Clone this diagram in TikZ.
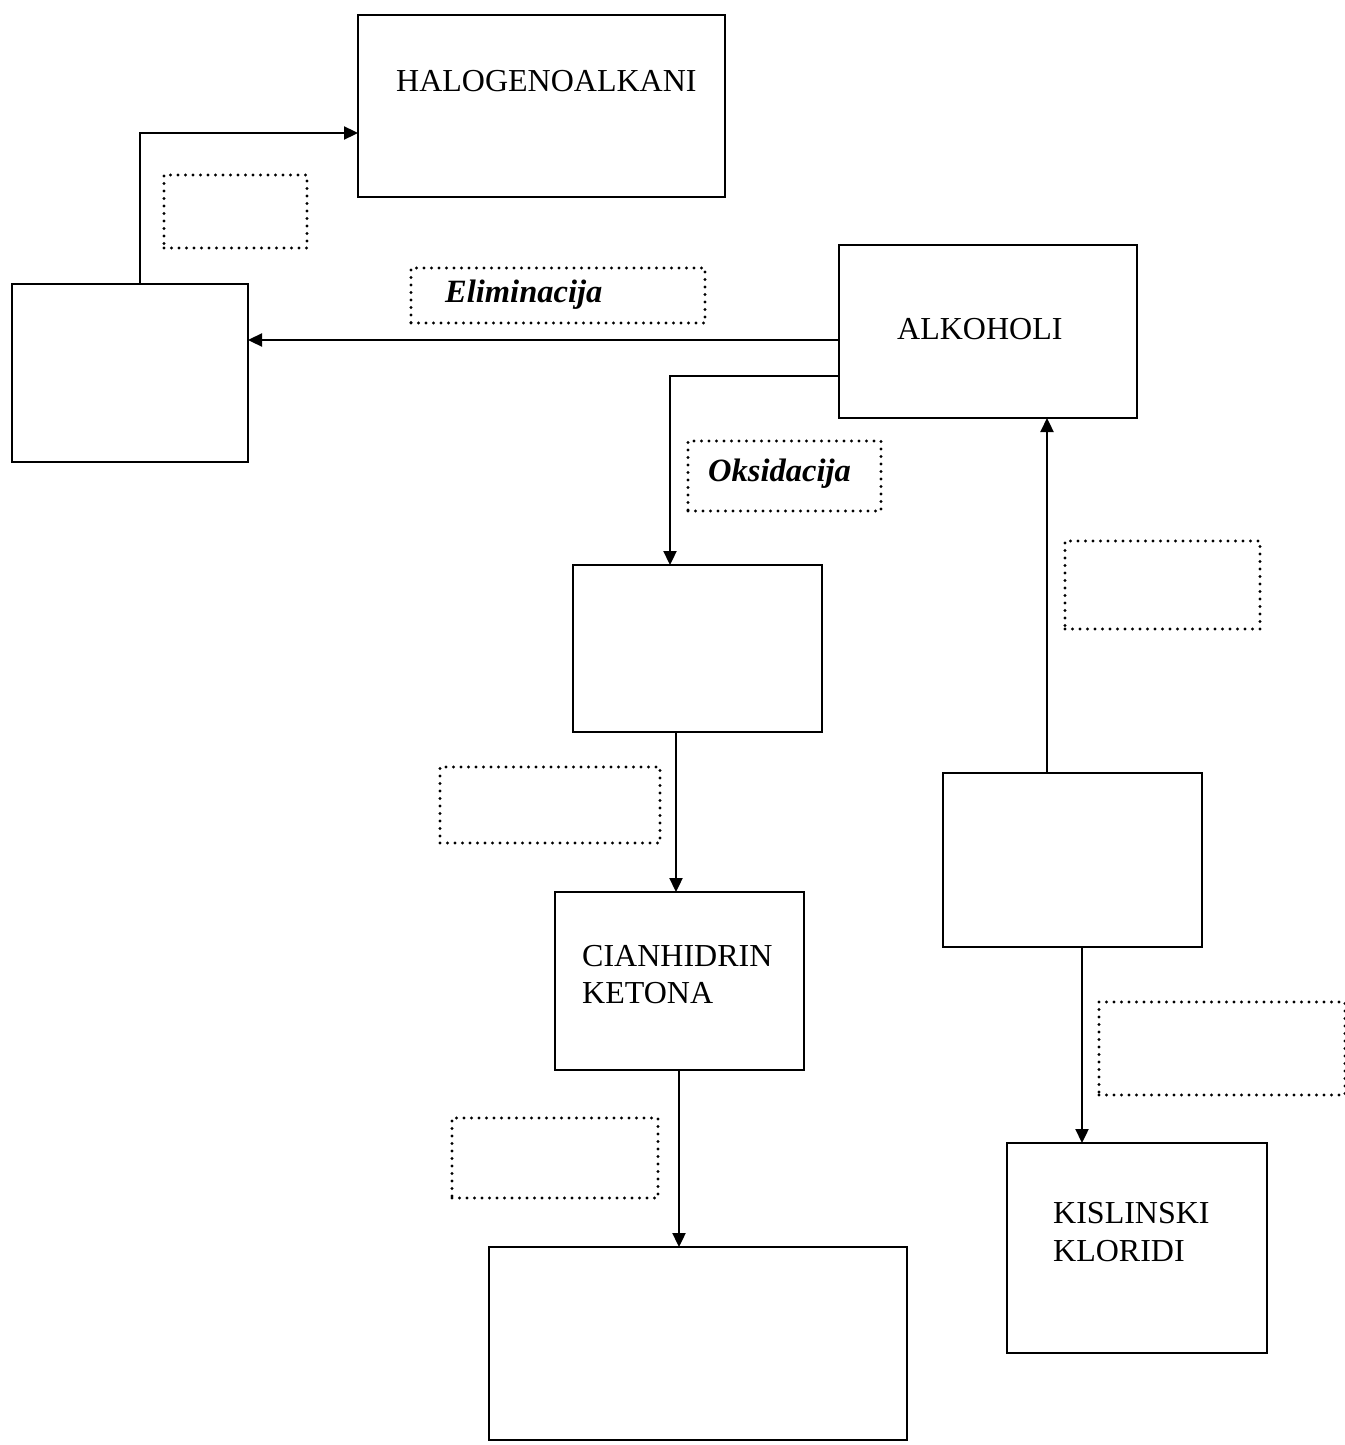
\documentclass[tikz,border=0pt]{standalone}
\usepackage{fontspec}
\setmainfont{Liberation Serif}
\usetikzlibrary{arrows.meta}
\begin{document}
\begin{tikzpicture}[x=1pt,y=-1pt,
  box/.style={draw=black, line width=2.3pt, inner sep=0pt, outer sep=0pt, anchor=north west},
  dotbox/.style={draw=black, line width=3.1pt, line cap=round, dash pattern=on 0pt off 7.5pt, inner sep=0pt, outer sep=0pt, anchor=north west},
  arr/.style={line width=2.3pt, -{Triangle[length=14pt,width=13pt]}},
  lbl/.style={font=\fontsize{32}{37}\selectfont, inner sep=0pt, anchor=base west},
  ilbl/.style={font=\fontsize{32.5}{37}\selectfont\bfseries\itshape, inner sep=0pt, anchor=base west}]
\useasboundingbox[fill=white] (0,0) rectangle (1344,1445);

% solid boxes
\node[box, minimum width=367pt, minimum height=182pt] (halo) at (358,15) {};
\node[box, minimum width=236pt, minimum height=178pt] (lbox) at (12,284) {};
\node[box, minimum width=298pt, minimum height=173pt] (alk) at (839,245) {};
\node[box, minimum width=249pt, minimum height=167pt] (mid) at (573,565) {};
\node[box, minimum width=249pt, minimum height=178pt] (cian) at (555,892) {};
\node[box, minimum width=418pt, minimum height=193pt] (bot) at (489,1247) {};
\node[box, minimum width=259pt, minimum height=174pt] (rbox) at (943,773) {};
\node[box, minimum width=260pt, minimum height=210pt] (kis) at (1007,1143) {};

% dotted boxes
\node[dotbox, minimum width=143pt, minimum height=73pt] (d1) at (164,175) {};
\node[dotbox, minimum width=294pt, minimum height=55pt] (delim) at (411,268) {};
\node[dotbox, minimum width=193pt, minimum height=70pt] (doks) at (688,441) {};
\node[dotbox, minimum width=195pt, minimum height=88pt] (d4) at (1065,541) {};
\node[dotbox, minimum width=220pt, minimum height=76pt] (d5) at (440,767) {};
\node[dotbox, minimum width=206pt, minimum height=80pt] (d6) at (452,1118) {};
\node[dotbox, minimum width=246pt, minimum height=93pt] (d7) at (1099,1002) {};

% texts
\node[lbl] (thalo) at (396,91) {HALOGENOALKANI};
\node[lbl] (talk) at (897,339) {ALKOHOLI};
\node[lbl] (tcian1) at (582,966) {CIANHIDRIN};
\node[lbl] (tcian2) at (582,1003) {KETONA};
\node[lbl] (tkis1) at (1053,1223) {KISLINSKI};
\node[lbl] (tkis2) at (1053,1261) {KLORIDI};
\node[ilbl] (telim) at (445,302) {Eliminacija};
\node[ilbl] (toks) at (708,481) {Oksidacija};

% connectors
\draw[arr] (lbox.north -| 140,0) |- (halo.west |- 0,133);
\draw[arr] (alk.west |- 0,340) -- (lbox.east |- 0,340);
\draw[arr] (alk.west |- 0,376) -| (mid.north -| 670,0);
\draw[arr] (mid.south -| 676,0) -- (cian.north -| 676,0);
\draw[arr] (cian.south -| 679,0) -- (bot.north -| 679,0);
\draw[arr] (rbox.north -| 1047,0) -- (alk.south -| 1047,0);
\draw[arr] (rbox.south -| 1082,0) -- (kis.north -| 1082,0);
\end{tikzpicture}
\end{document}
